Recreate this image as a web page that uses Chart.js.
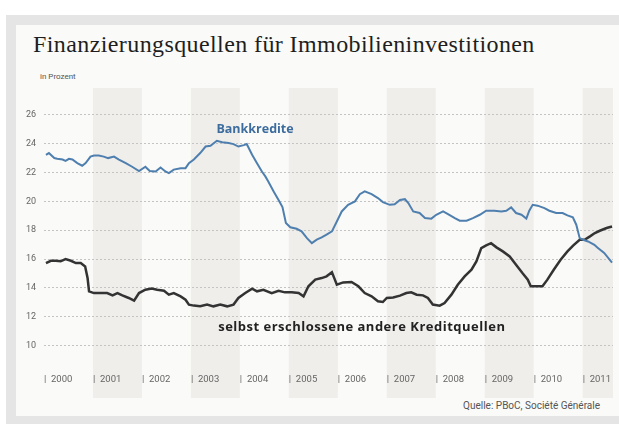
<!DOCTYPE html>
<html>
<head>
<meta charset="utf-8">
<script src="https://cdn.jsdelivr.net/npm/chart.js@4/dist/chart.umd.min.js"></script>
<style>
  html, body { margin: 0; padding: 0; background: #fff; }
  body { width: 619px; height: 424px; position: relative; overflow: hidden; }
  .frame { position: absolute; left: 6px; top: 15px; width: 613px; height: 409px; background: #e5e5e5; }
  .panel { position: absolute; left: 16px; top: 25px; width: 603px; height: 391px; background: #fafaf8; }
  .title { position: absolute; left: 33px; top: 32px; font: 24px/24px "Liberation Serif", serif; letter-spacing: 0.4px; color: #1e1e1e; white-space: nowrap; }
  .unit { position: absolute; left: 40px; top: 72px; font: 8px/10px Roboto, sans-serif; color: #555; }
  .src { position: absolute; right: 19px; top: 400px; font: 10px/12px Roboto, sans-serif; color: #555; }
  canvas { position: absolute; left: 0; top: 0; }
</style>
</head>
<body>
<div class="frame"></div>
<div class="panel"></div>
<div class="title">Finanzierungsquellen für Immobilieninvestitionen</div>
<div class="unit">in Prozent</div>
<div class="src">Quelle: PBoC, Société Générale</div>
<canvas id="c" width="619" height="424"></canvas>
<script>
// Jahre als Dezimalzahl, Werte in Prozent
const bankYears = [2000.04,2000.10,2000.21,2000.27,2000.38,2000.44,2000.51,2000.58,2000.68,2000.78,2000.85,2000.95,
  2001.02,2001.12,2001.22,2001.31,2001.43,2001.53,2001.67,2001.80,2001.94,2002.07,2002.16,2002.28,2002.38,2002.48,
  2002.55,2002.65,2002.79,2002.89,2002.96,2003.06,2003.19,2003.30,2003.40,2003.53,2003.64,2003.77,2003.87,2003.97,
  2004.08,2004.14,2004.25,2004.35,2004.45,2004.52,2004.58,2004.69,2004.79,2004.87,2004.94,2005.03,2005.16,2005.26,
  2005.37,2005.47,2005.57,2005.67,2005.77,2005.88,2005.98,2006.08,2006.21,2006.35,2006.45,2006.55,2006.69,2006.82,
  2006.92,2007.06,2007.16,2007.27,2007.37,2007.44,2007.54,2007.67,2007.78,2007.91,2008.01,2008.15,2008.25,2008.39,
  2008.49,2008.63,2008.76,2008.90,2009.03,2009.20,2009.34,2009.44,2009.54,2009.64,2009.75,2009.85,2009.91,2009.98,
  2010.08,2010.22,2010.32,2010.46,2010.59,2010.69,2010.80,2010.87,2010.94,2011.01,2011.11,2011.24,2011.30,2011.44,2011.60];
const bankValues = [23.23,23.35,23.0,22.95,22.9,22.8,22.95,22.9,22.65,22.47,22.65,23.1,
  23.18,23.18,23.1,23.0,23.1,22.9,22.65,22.4,22.1,22.4,22.1,22.07,22.35,22.07,
  21.96,22.2,22.3,22.3,22.65,22.9,23.35,23.8,23.85,24.2,24.1,24.04,23.97,23.8,
  23.9,23.97,23.23,22.65,22.07,21.73,21.38,20.69,20.1,19.6,18.5,18.2,18.1,17.92,
  17.45,17.1,17.34,17.5,17.7,17.92,18.6,19.3,19.76,20.0,20.5,20.69,20.5,20.23,
  19.95,19.76,19.8,20.1,20.15,19.88,19.3,19.19,18.84,18.8,19.07,19.3,19.12,18.84,
  18.66,18.66,18.84,19.07,19.35,19.35,19.3,19.35,19.58,19.19,19.07,18.8,19.35,19.76,
  19.7,19.53,19.35,19.19,19.19,19.03,18.89,18.38,17.45,17.34,17.22,16.99,16.8,16.42,15.75];

const otherYears = [2000.04,2000.14,2000.24,2000.34,2000.44,2000.55,2000.65,2000.75,2000.84,2000.89,2000.92,
  2001.02,2001.16,2001.29,2001.40,2001.50,2001.60,2001.73,2001.84,2001.94,2002.07,2002.20,2002.31,2002.45,2002.55,
  2002.65,2002.79,2002.89,2002.96,2003.06,2003.19,2003.33,2003.46,2003.60,2003.74,2003.87,2003.97,2004.11,2004.25,
  2004.35,2004.48,2004.65,2004.79,2004.92,2005.06,2005.20,2005.30,2005.40,2005.54,2005.67,2005.77,2005.88,2005.94,
  2005.98,2006.11,2006.28,2006.42,2006.55,2006.69,2006.82,2006.92,2007.00,2007.13,2007.27,2007.40,2007.50,2007.61,
  2007.74,2007.84,2007.94,2008.08,2008.18,2008.32,2008.45,2008.59,2008.73,2008.83,2008.93,2009.03,2009.13,2009.24,
  2009.37,2009.51,2009.64,2009.77,2009.88,2009.94,2010.08,2010.18,2010.28,2010.41,2010.55,2010.69,2010.81,2010.94,
  2011.04,2011.15,2011.25,2011.35,2011.49,2011.60];
const otherValues = [15.72,15.88,15.88,15.84,16.0,15.88,15.72,15.72,15.49,14.68,13.76,
  13.64,13.64,13.64,13.48,13.64,13.48,13.3,13.11,13.64,13.87,13.95,13.87,13.8,13.53,
  13.64,13.41,13.18,12.84,12.77,12.72,12.84,12.72,12.84,12.72,12.84,13.3,13.64,13.94,
  13.76,13.87,13.64,13.8,13.69,13.69,13.64,13.41,14.11,14.57,14.68,14.8,15.08,14.57,
  14.22,14.38,14.41,14.11,13.64,13.41,13.07,13.02,13.3,13.34,13.46,13.64,13.69,13.53,
  13.48,13.3,12.84,12.77,12.95,13.53,14.22,14.8,15.26,15.84,16.76,16.95,17.1,16.81,
  16.53,16.18,15.6,15.03,14.57,14.11,14.11,14.11,14.57,15.26,15.95,16.53,16.95,17.34,
  17.34,17.57,17.8,17.96,18.15,18.26];

const yearLabels = [2000,2001,2002,2003,2004,2005,2006,2007,2008,2009,2010,2011];
const shadedYears = [2001,2003,2005,2007,2009,2011];
const yTicks = [10,12,14,16,18,20,22,24,26];

const labelBank = { text: 'Bankkredite', x: 2004.31, y: 25.02 };
const labelOther = { text: 'selbst erschlossene andere Kreditquellen', x: 2006.49, y: 11.28 };

function pts(xs, ys){ return xs.map((x,i)=>({ x, y: ys[i] })); }

const bands = {
  id: 'bands',
  beforeDraw(chart){
    const { ctx, chartArea: a, scales: { x } } = chart;
    ctx.save();
    ctx.fillStyle = '#f0eeeb';
    shadedYears.forEach(yr => {
      const x0 = Math.max(x.getPixelForValue(yr), a.left);
      const x1 = Math.min(x.getPixelForValue(yr + 1), a.right);
      if (x1 > x0) ctx.fillRect(x0, a.top, x1 - x0, a.bottom - a.top + 36);
    });
    ctx.restore();
  },
  afterDatasetsDraw(chart){
    const { ctx, scales: { x, y } } = chart;
    ctx.save();
    ctx.textAlign = 'center'; ctx.textBaseline = 'middle';
    ctx.font = 'bold 12.5px "Open Sans", sans-serif';
    ctx.fillStyle = '#3d6d9e';
    ctx.fillText(labelBank.text, x.getPixelForValue(labelBank.x), y.getPixelForValue(labelBank.y));
    ctx.font = 'bold 13px "Open Sans", sans-serif';
    ctx.letterSpacing = '0.5px';
    ctx.fillStyle = '#222';
    ctx.fillText(labelOther.text, x.getPixelForValue(labelOther.x), y.getPixelForValue(labelOther.y));
    ctx.restore();
  }
};

new Chart(document.getElementById('c'), {
  type: 'line',
  data: {
    datasets: [
      { label: 'Bankkredite', data: pts(bankYears, bankValues), borderColor: '#4f7fae', borderWidth: 2, pointRadius: 0, tension: 0 },
      { label: 'selbst erschlossene andere Kreditquellen', data: pts(otherYears, otherValues), borderColor: '#333', borderWidth: 2.5, pointRadius: 0, tension: 0 }
    ]
  },
  options: {
    responsive: false,
    animation: false,
    layout: { padding: { left: 0, right: 6, top: 88, bottom: 32 } },
    plugins: { legend: { display: false }, tooltip: { enabled: false } },
    scales: {
      x: {
        type: 'linear', min: 2000, max: 2011.62,
        grid: { display: false, drawTicks: false },
        border: { display: false },
        afterBuildTicks(s){ s.ticks = yearLabels.map(v => ({ value: v })); },
        afterFit(s){ s.height = 30; s.paddingLeft = 0; s.paddingRight = 0; },
        ticks: { align: 'start', autoSkip: false, maxRotation: 0, padding: 12, color: '#666',
          font: { family: 'Roboto', size: 9.5 }, callback: v => '|  ' + v }
      },
      y: {
        min: 8.86, max: 27.86,
        grid: { color: '#c4c4c4', lineWidth: 1, drawTicks: false },
        border: { display: false, dash: [2, 2] },
        afterBuildTicks(s){ s.ticks = yTicks.map(v => ({ value: v })); },
        afterFit(s){ s.width = 44; },
        ticks: { padding: 8, color: '#666', font: { family: 'Roboto', size: 9 } }
      }
    }
  },
  plugins: [bands]
});
</script>
</body>
</html>
